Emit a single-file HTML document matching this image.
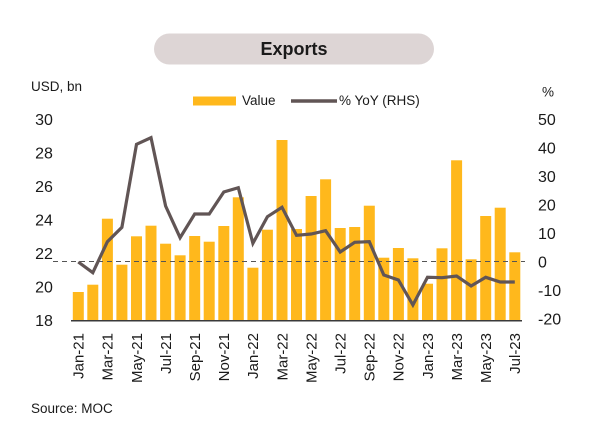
<!DOCTYPE html>
<html>
<head>
<meta charset="utf-8">
<style>
  html,body{margin:0;padding:0;background:#fff;}
  svg{display:block;}
  text{font-family:"Liberation Sans", Arial, sans-serif;fill:#1a1a1a;}
</style>
</head>
<body>
<svg width="600" height="435" viewBox="0 0 600 435" xmlns="http://www.w3.org/2000/svg">
  <rect x="0" y="0" width="600" height="435" fill="#fff"/>
  <!-- Title pill -->
  <rect x="154" y="33.5" width="280" height="31" rx="15.5" ry="15.5" fill="#ddd5d5"/>
  <text x="294" y="55" font-size="18" font-weight="bold" text-anchor="middle" fill="#111">Exports</text>

  <!-- Axis titles -->
  <text x="31" y="91" font-size="13.5">USD, bn</text>
  <text x="548" y="96.5" font-size="13.5" text-anchor="middle">%</text>

  <!-- Legend -->
  <rect x="193" y="96.5" width="43" height="9" fill="#FFB81C"/>
  <text x="242" y="105" font-size="13.5">Value</text>
  <line x1="291" y1="101" x2="337" y2="101" stroke="#615555" stroke-width="3.5"/>
  <text x="339" y="105" font-size="13.5">% YoY (RHS)</text>

  <!-- Left axis labels -->
  <g font-size="16" text-anchor="middle">
    <text x="44" y="125">30</text>
    <text x="44" y="158.5">28</text>
    <text x="44" y="192">26</text>
    <text x="44" y="225.5">24</text>
    <text x="44" y="259">22</text>
    <text x="44" y="292.5">20</text>
    <text x="44" y="326">18</text>
  </g>
  <!-- Right axis labels -->
  <g font-size="16" text-anchor="start">
    <text x="538" y="125">50</text>
    <text x="538" y="153.5">40</text>
    <text x="538" y="182">30</text>
    <text x="538" y="210.5">20</text>
    <text x="538" y="239">10</text>
    <text x="538" y="267.5">0</text>
    <text x="538" y="296">-10</text>
    <text x="538" y="324.5">-20</text>
  </g>

  <!-- Bars -->
  <g fill="#FFB81C">
    <rect x="72.8" y="292" width="11" height="28.5"/>
    <rect x="87.3" y="284.7" width="11" height="35.8"/>
    <rect x="101.9" y="218.7" width="11" height="101.8"/>
    <rect x="116.4" y="264.7" width="11" height="55.8"/>
    <rect x="131.0" y="236.3" width="11" height="84.2"/>
    <rect x="145.5" y="225.7" width="11" height="94.8"/>
    <rect x="160.1" y="243.7" width="11" height="76.8"/>
    <rect x="174.6" y="255.3" width="11" height="65.2"/>
    <rect x="189.2" y="236" width="11" height="84.5"/>
    <rect x="203.7" y="241.7" width="11" height="78.8"/>
    <rect x="218.3" y="226" width="11" height="94.5"/>
    <rect x="232.8" y="197.3" width="11" height="123.2"/>
    <rect x="247.4" y="267.7" width="11" height="52.8"/>
    <rect x="261.9" y="229.7" width="11" height="90.8"/>
    <rect x="276.5" y="140" width="11" height="180.5"/>
    <rect x="291.0" y="229" width="11" height="91.5"/>
    <rect x="305.6" y="196" width="11" height="124.5"/>
    <rect x="320.1" y="179.3" width="11" height="141.2"/>
    <rect x="334.7" y="228" width="11" height="92.5"/>
    <rect x="349.2" y="227" width="11" height="93.5"/>
    <rect x="363.8" y="205.7" width="11" height="114.8"/>
    <rect x="378.3" y="257.7" width="11" height="62.8"/>
    <rect x="392.9" y="248" width="11" height="72.5"/>
    <rect x="407.4" y="258.3" width="11" height="62.2"/>
    <rect x="422.0" y="283.7" width="11" height="36.8"/>
    <rect x="436.5" y="248.3" width="11" height="72.2"/>
    <rect x="451.1" y="160.3" width="11" height="160.2"/>
    <rect x="465.6" y="259.3" width="11" height="61.2"/>
    <rect x="480.2" y="216" width="11" height="104.5"/>
    <rect x="494.7" y="207.7" width="11" height="112.8"/>
    <rect x="509.3" y="252.3" width="11" height="68.2"/>
  </g>

  <!-- Zero dashed line -->
  <line x1="53" y1="261.5" x2="525" y2="261.5" stroke="#555" stroke-width="1" stroke-dasharray="5,4"/>

  <!-- Baseline -->
  <line x1="71" y1="320.8" x2="522" y2="320.8" stroke="#3a3a3a" stroke-width="1.5"/>

  <!-- YoY line -->
  <polyline fill="none" stroke="#615555" stroke-width="3.2" stroke-linejoin="miter" stroke-miterlimit="4"
    points="78.3,262 92.8,272.7 107.4,241.7 121.9,227.3 136.5,144.3 151.0,137.7 165.6,206 180.1,237.7 194.7,214 209.2,214 223.8,192 238.3,187.7 252.9,243.3 267.4,216.7 282.0,207.3 296.5,235.3 311.1,234 325.6,230.7 340.2,252 354.7,242.3 369.3,241.7 383.8,275 398.4,280 412.9,305 427.5,277.3 442.0,277.7 456.6,276 471.1,286 485.7,277.3 500.2,282 514.8,282"/>

  <!-- X labels -->
  <g font-size="15" text-anchor="end">
    <text transform="translate(78.3,333) rotate(-90)" dy="5.3">Jan-21</text>
    <text transform="translate(107.4,333) rotate(-90)" dy="5.3">Mar-21</text>
    <text transform="translate(136.5,333) rotate(-90)" dy="5.3">May-21</text>
    <text transform="translate(165.6,333) rotate(-90)" dy="5.3">Jul-21</text>
    <text transform="translate(194.7,333) rotate(-90)" dy="5.3">Sep-21</text>
    <text transform="translate(223.8,333) rotate(-90)" dy="5.3">Nov-21</text>
    <text transform="translate(252.9,333) rotate(-90)" dy="5.3">Jan-22</text>
    <text transform="translate(282.0,333) rotate(-90)" dy="5.3">Mar-22</text>
    <text transform="translate(311.1,333) rotate(-90)" dy="5.3">May-22</text>
    <text transform="translate(340.2,333) rotate(-90)" dy="5.3">Jul-22</text>
    <text transform="translate(369.3,333) rotate(-90)" dy="5.3">Sep-22</text>
    <text transform="translate(398.4,333) rotate(-90)" dy="5.3">Nov-22</text>
    <text transform="translate(427.5,333) rotate(-90)" dy="5.3">Jan-23</text>
    <text transform="translate(456.6,333) rotate(-90)" dy="5.3">Mar-23</text>
    <text transform="translate(485.7,333) rotate(-90)" dy="5.3">May-23</text>
    <text transform="translate(514.8,333) rotate(-90)" dy="5.3">Jul-23</text>
  </g>

  <!-- Source -->
  <text x="31" y="413" font-size="13.5">Source: MOC</text>
</svg>
</body>
</html>
